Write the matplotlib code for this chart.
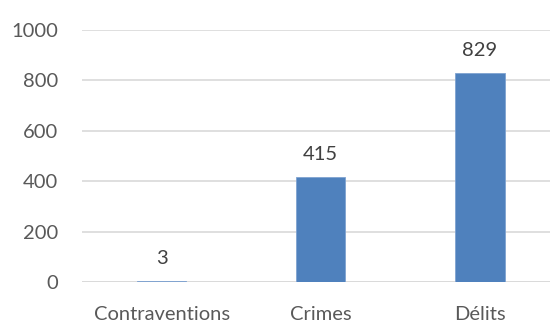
import matplotlib.pyplot as plt

categories = ["Contraventions", "Crimes", "Délits"]
counts = [3, 415, 829]
yticks = [0, 200, 400, 600, 800, 1000]

plt.rcParams['font.family'] = ['Lato', 'DejaVu Sans']
text_color = "#595959"

fig = plt.figure(figsize=(5.5, 3.23), dpi=100)
ax = fig.add_axes([82 / 550, 1 - 282 / 323, 468 / 550, 252 / 323])

x = range(len(categories))
bars = ax.bar(x, counts, width=0.31, color="#4f81bd", edgecolor="#7fa3d1", linewidth=0.6, zorder=3)

for b, v in zip(bars, counts):
    ax.annotate(str(v), (b.get_x() + b.get_width() / 2, v), xytext=(0, 16.5),
                textcoords="offset points", ha="center", va="center",
                fontsize=14.5, color="#404040")

ax.set_xlim(-0.5, 2.44)
ax.set_ylim(0, 1000)
ax.set_yticks(yticks)
ax.set_xticks(list(x))
ax.set_xticklabels(categories)
ax.yaxis.grid(True, color="#d9d9d9", linewidth=1.2, zorder=0)
ax.tick_params(axis="both", length=0, labelsize=14.5, labelcolor=text_color)
ax.tick_params(axis="y", pad=17)
ax.tick_params(axis="x", pad=17)
for s in ax.spines.values():
    s.set_visible(False)
ax.axhline(0, color="#d9d9d9", linewidth=1.2, zorder=1)

fig.savefig("out.png", dpi=100)
